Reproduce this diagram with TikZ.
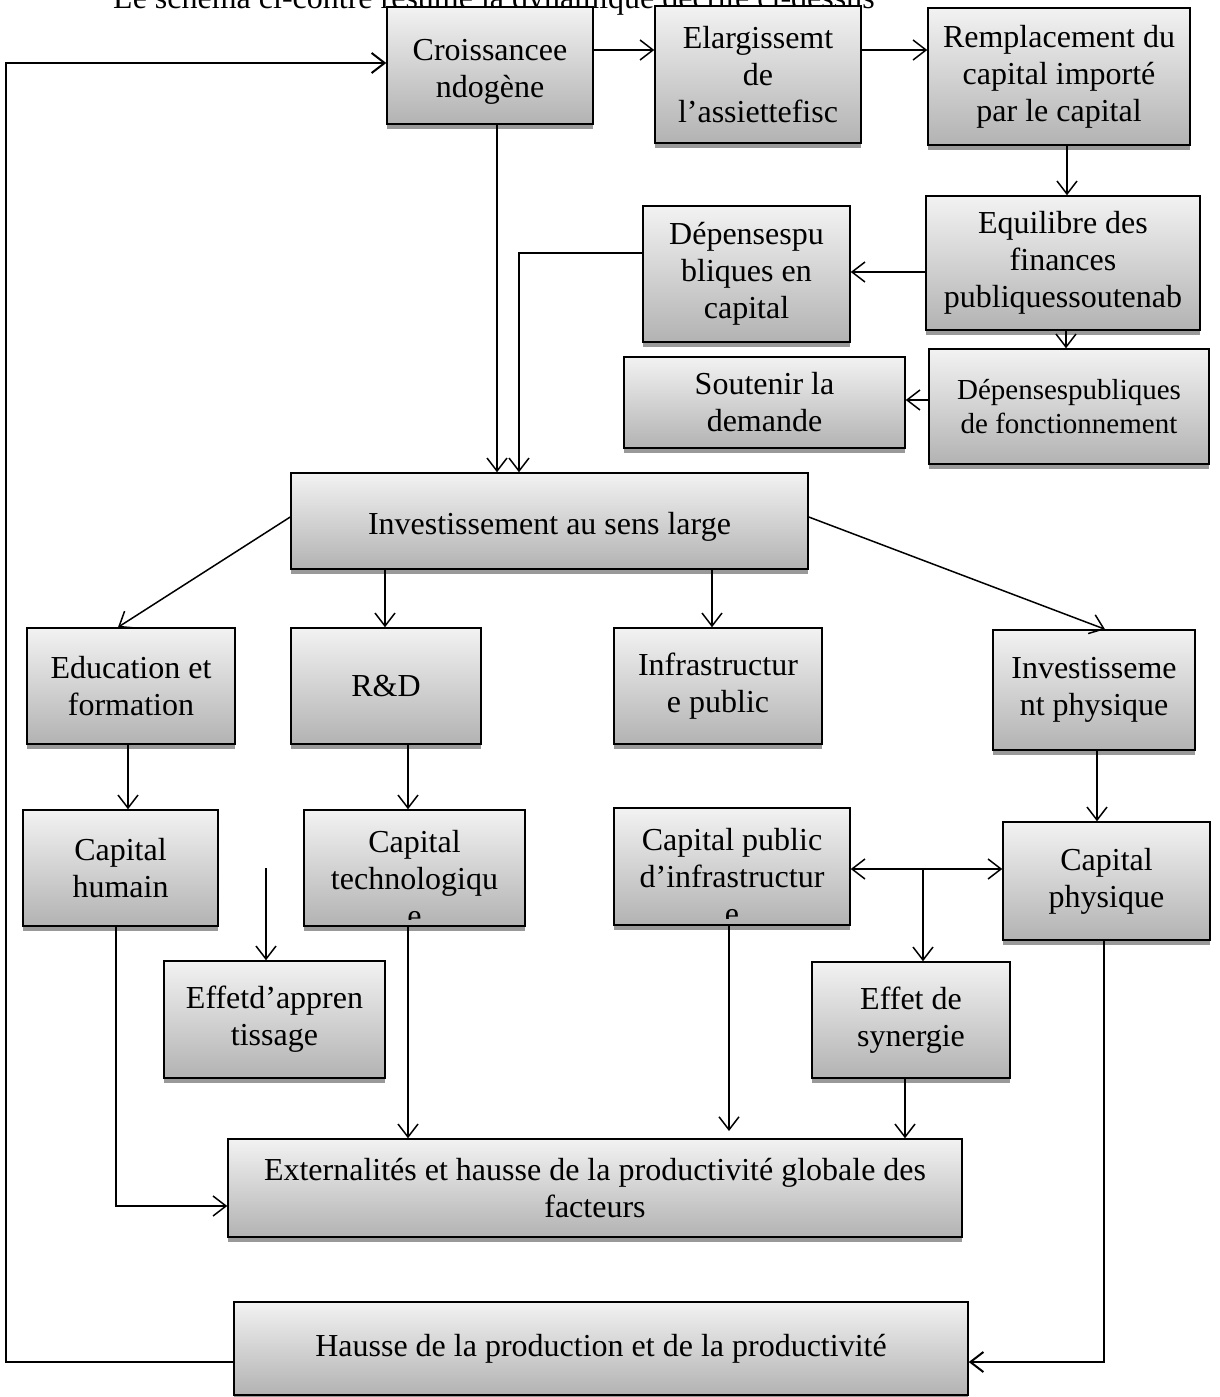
\documentclass[tikz,border=0pt]{standalone}
\usepackage{fontspec}
\setmainfont{Liberation Serif}[Ligatures=CommonOff]
\usetikzlibrary{arrows.meta,shadows}
\newcommand\fsA{\fontsize{32}{37}\selectfont}
\newcommand\fsB{\fontsize{29}{34}\selectfont}
\newcommand\lowertext[2]{\raisebox{-#1}[\height][\depth]{#2}}
\tikzset{
  plainbox/.style={draw=black, line width=1.5pt, top color=black!5, bottom color=black!30,
    inner sep=0pt, align=center, font=\fsA},
  box/.style={plainbox,
    drop shadow={shadow xshift=0pt, shadow yshift=-5pt, fill=black!40, opacity=1}},
  conn/.style={line width=1.5pt, ->},
  >={Straight Barb[length=13pt,width=20pt]}
}
% \bx[options]{name}{x1}{y1}{x2}{y2}{text}
\newcommand\bx[7][]{%
  \pgfmathsetmacro\bxw{#5-#3}\pgfmathsetmacro\bxh{#6-#4}%
  \node[box, minimum width=\bxw pt, minimum height=\bxh pt, #1] (#2) at ({(#3+#5)/2},{(#4+#6)/2}) {#7};}
\begin{document}
\begin{tikzpicture}[x=1pt,y=-1pt]
\useasboundingbox (0,0) rectangle (1219,1397);
\clip (0,0) rectangle (1219,1397);
% caption, partly hidden
\node[anchor=base west, inner sep=0pt, font=\fsA] (cap) at (113,9) {Le schéma ci-contre résume la dynamique décrite ci-dessus};
% boxes
\bx{cro}{387}{7}{593}{124}{\lowertext{6pt}{\begin{tabular}{@{}c@{}}Croissancee\\ndogène\end{tabular}}}
\bx{ela}{655}{6}{861}{143}{Elargissemt\\de\\l’assiettefisc}
\bx{rem}{928}{8}{1190}{145}{Remplacement du\\capital importé\\par le capital}
\bx{equ}{926}{196}{1200}{330}{Equilibre des\\finances\\publiquessoutenab}
\bx{dsp}{643}{206}{850}{342}{Dépensespu\\bliques en\\capital}
\bx{sou}{624}{357}{905}{448}{Soutenir la\\demande}
\bx[font=\fsB]{dfo}{929}{349}{1209}{464}{Dépensespubliques\\de fonctionnement}
\bx{inv}{291}{473}{808}{569}{\lowertext{6pt}{Investissement au sens large}}
\bx{edu}{27}{628}{235}{744}{Education et\\formation}
\bx{rd}{291}{628}{481}{744}{R\&D}
\bx{inf}{614}{628}{822}{744}{Infrastructur\\e public}
\bx{ip}{993}{630}{1195}{750}{Investisseme\\nt physique}
\bx{ch}{23}{810}{218}{926}{Capital\\humain}
\bx[path picture={
    \clip ([yshift=7pt]path picture bounding box.south west) rectangle (path picture bounding box.north east);
    \node[align=center, font=\fsA] at ([yshift=-11pt]path picture bounding box.center) {Capital\\technologiqu\\e};}]{ct}{304}{810}{525}{926}{}
\bx[path picture={
    \clip ([yshift=7pt]path picture bounding box.south west) rectangle (path picture bounding box.north east);
    \node[align=center, font=\fsA] at ([yshift=-10pt]path picture bounding box.center) {Capital public\\d’infrastructur\\e};}]{cpi}{614}{808}{850}{925}{}
\bx{cph}{1003}{822}{1210}{940}{Capital\\physique}
\bx{eff}{164}{961}{385}{1078}{Effetd’appren\\tissage}
\bx{syn}{812}{962}{1010}{1078}{Effet de\\synergie}
\bx{ext}{228}{1139}{962}{1237}{Externalités et hausse de la productivité globale des\\facteurs}
\bx[plainbox]{hau}{234}{1302}{968}{1395}{Hausse de la production et de la productivité}
% free-end coordinates
\coordinate (fbL) at (6,1362);
\coordinate (fbT) at (6,63);
\coordinate (hmL) at (116,1206);
\coordinate (fbR) at (1104,1362);
\coordinate (lrn) at (266,868);
\coordinate (cpiend) at (729,1131);
\coordinate (dspL) at (519,253);
\coordinate (jn) at (923,869);
% connectors
\draw[conn, line width=2pt] (hau.west |- fbL) -- (fbL) -- (fbT) -- (cro.west |- fbT);
\draw[conn] (cro.east |- 0,50) -- (ela.west |- 0,50);
\draw[conn] (ela.east |- 0,50) -- (rem.west |- 0,50);
\draw[conn] (rem.south -| 1067,0) -- (equ.north -| 1067,0);
\draw[conn] (equ.west |- 0,272) -- (dsp.east |- 0,272);
\draw[conn] (equ.south -| 1066,0) -- (dfo.north -| 1066,0);
\draw[conn] (dfo.west |- 0,400) -- (sou.east |- 0,400);
\draw[conn] (cro.south -| 497,0) -- (inv.north -| 497,0);
\draw[conn] (dsp.west |- 0,261) -- (dsp.west |- dspL) -- (dspL) -- (inv.north -| dspL);
\draw[conn] (inv.west |- 0,517) -- (edu.north -| 118,0);
\draw[conn] (inv.south -| 385,0) -- (rd.north -| 385,0);
\draw[conn] (inv.south -| 712,0) -- (inf.north -| 712,0);
\draw[conn] (inv.east |- 0,517) -- (ip.north -| 1105,0);
\draw[conn] (edu.south -| 128,0) -- (ch.north -| 128,0);
\draw[conn] (rd.south -| 408,0) -- (ct.north -| 408,0);
\draw[conn] (ip.south -| 1097,0) -- (cph.north -| 1097,0);
\draw[conn, <->] (cpi.east |- jn) -- (cph.west |- jn);
\draw[conn] (jn) -- (syn.north -| jn);
\draw[conn] (lrn) -- (eff.north -| lrn);
\draw[conn] (ch.south -| hmL) -- (hmL) -- (ext.west |- hmL);
\draw[conn] (ct.south -| 408,0) -- (ext.north -| 408,0);
\draw[conn] (cpi.south -| cpiend) -- (cpiend);
\draw[conn] (syn.south -| 905,0) -- (ext.north -| 905,0);
\draw[conn, line width=2pt] (cph.south -| fbR) -- (fbR) -- (hau.east |- fbR);
\end{tikzpicture}
\end{document}
